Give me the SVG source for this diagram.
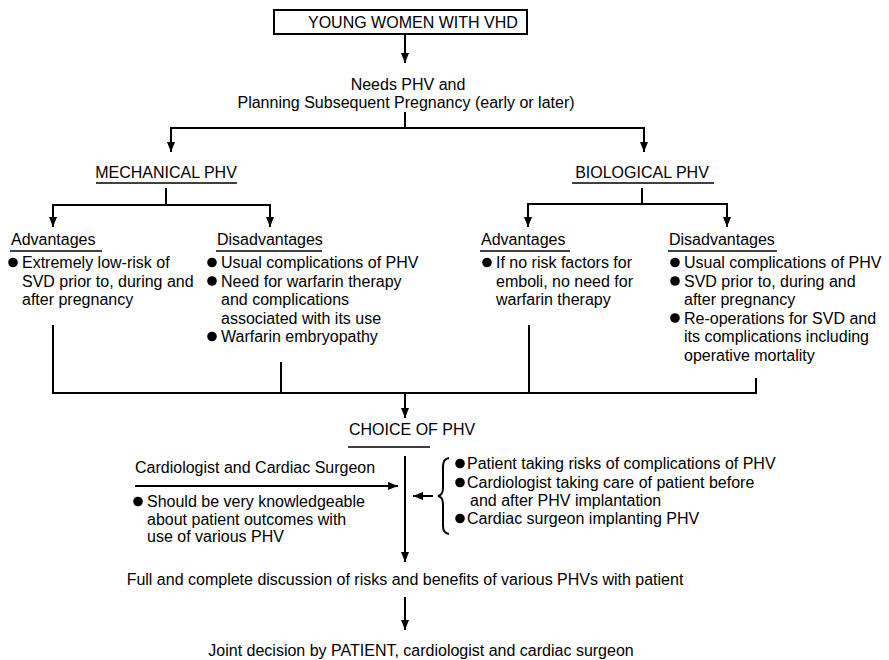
<svg xmlns="http://www.w3.org/2000/svg" width="889" height="660" viewBox="0 0 889 660">
<defs>
<marker id="ah" markerWidth="10" markerHeight="8" refX="10" refY="4" orient="auto" markerUnits="userSpaceOnUse">
<path d="M0,0 L10,4 L0,8 z" fill="#000"/>
</marker>
<style>
text{font-family:"Liberation Sans",Arial,Helvetica,sans-serif;font-size:16px;fill:#000}
.ln{stroke:#000;stroke-width:2;fill:none}
.ar{stroke:#000;stroke-width:2;fill:none;marker-end:url(#ah)}
.ul{stroke:#000;stroke-width:1.6}
.bx{fill:#fff;stroke:#000;stroke-width:2}
.c{text-anchor:middle}
circle{fill:#000}
</style>
</defs>
<rect width="889" height="660" fill="#fff"/>

<g id="connectors">
<line class="ar" x1="405" y1="35" x2="405" y2="63"/>
<line class="ln" x1="405" y1="112" x2="405" y2="128"/>
<line class="ln" x1="170" y1="128" x2="645" y2="128"/>
<line class="ar" x1="171" y1="128" x2="171" y2="152"/>
<line class="ar" x1="644" y1="128" x2="644" y2="152"/>
<line class="ln" x1="166" y1="188" x2="166" y2="205"/>
<line class="ln" x1="52" y1="205" x2="271" y2="205"/>
<line class="ar" x1="53" y1="205" x2="53" y2="227"/>
<line class="ar" x1="270" y1="205" x2="270" y2="227"/>
<line class="ln" x1="642" y1="188" x2="642" y2="204"/>
<line class="ln" x1="527" y1="204" x2="728" y2="204"/>
<line class="ar" x1="528" y1="204" x2="528" y2="227"/>
<line class="ar" x1="727" y1="204" x2="727" y2="227"/>
<line class="ln" x1="53" y1="325" x2="53" y2="393"/>
<line class="ln" x1="281" y1="362" x2="281" y2="393"/>
<line class="ln" x1="529" y1="325" x2="529" y2="393"/>
<line class="ln" x1="756" y1="378" x2="756" y2="393"/>
<line class="ln" x1="52" y1="393" x2="757" y2="393"/>
<line class="ar" x1="405" y1="393" x2="405" y2="418"/>
<line class="ar" x1="405" y1="456" x2="405" y2="562"/>
<line class="ar" x1="135" y1="486" x2="398" y2="486"/>
<line class="ar" x1="433" y1="496" x2="413" y2="496"/>
<path class="ln" stroke-width="1.4" d="M449,458 Q443,459 443,466 L443,488 Q443,495 438,496 Q443,497 443,504 L443,526 Q443,533 449,534"/>
<line class="ar" x1="405" y1="597" x2="405" y2="630"/>
</g>

<g id="n-start">
<rect class="bx" x="274" y="10" width="253" height="24"/>
<text x="308" y="28">YOUNG WOMEN WITH VHD</text>
</g>

<g id="n-needs">
<text class="c" x="408" y="90">Needs PHV and</text>
<text class="c" x="406" y="108">Planning Subsequent Pregnancy (early or later)</text>
</g>

<g id="n-mech">
<text class="c" x="166" y="178">MECHANICAL PHV</text>
<line class="ul" x1="96" y1="183" x2="237" y2="183"/>
</g>

<g id="n-bio">
<text class="c" x="642" y="178">BIOLOGICAL PHV</text>
<line class="ul" x1="572" y1="183" x2="714" y2="183"/>
</g>

<g id="n-mech-adv">
<text x="11" y="245">Advantages</text>
<line class="ul" x1="10" y1="251" x2="102" y2="251"/>
<circle cx="13" cy="262.5" r="4.8"/>
<text x="22" y="268">Extremely low-risk of</text>
<text x="22" y="286.5">SVD prior to, during and</text>
<text x="22" y="305">after pregnancy</text>
</g>

<g id="n-mech-dis">
<text x="217" y="245">Disadvantages</text>
<line class="ul" x1="216" y1="251" x2="322" y2="251"/>
<circle cx="212" cy="262.5" r="4.8"/>
<text x="221" y="268">Usual complications of PHV</text>
<circle cx="212" cy="281" r="4.8"/>
<text x="221" y="286.5">Need for warfarin therapy</text>
<text x="221" y="305">and complications</text>
<text x="221" y="323.5">associated with its use</text>
<circle cx="212" cy="336.5" r="4.8"/>
<text x="221" y="342">Warfarin embryopathy</text>
</g>

<g id="n-bio-adv">
<text x="481" y="245">Advantages</text>
<line class="ul" x1="480" y1="251" x2="570" y2="251"/>
<circle cx="487" cy="262.5" r="4.8"/>
<text x="496" y="268">If no risk factors for</text>
<text x="496" y="286.5">emboli, no need for</text>
<text x="496" y="305">warfarin therapy</text>
</g>

<g id="n-bio-dis">
<text x="669" y="245">Disadvantages</text>
<line class="ul" x1="668" y1="251" x2="777" y2="251"/>
<circle cx="675" cy="262.5" r="4.8"/>
<text x="684" y="268">Usual complications of PHV</text>
<circle cx="675" cy="281" r="4.8"/>
<text x="684" y="286.5">SVD prior to, during and</text>
<text x="684" y="305">after pregnancy</text>
<circle cx="675" cy="318" r="4.8"/>
<text x="684" y="323.5">Re-operations for SVD and</text>
<text x="684" y="342">its complications including</text>
<text x="684" y="360.5">operative mortality</text>
</g>

<g id="n-choice">
<text x="349" y="435">CHOICE OF PHV</text>
<line class="ul" x1="348" y1="447" x2="430" y2="447"/>
</g>

<g id="n-cardio">
<text x="135" y="473">Cardiologist and Cardiac Surgeon</text>
<circle cx="138" cy="501.5" r="4.8"/>
<text x="147" y="507">Should be very knowledgeable</text>
<text x="147" y="524.5">about patient outcomes with</text>
<text x="147" y="542">use of various PHV</text>
</g>

<g id="n-patient">
<circle cx="460" cy="463.5" r="4.8"/>
<text x="467" y="469">Patient taking risks of complications of PHV</text>
<circle cx="460" cy="482.5" r="4.8"/>
<text x="467" y="488">Cardiologist taking care of patient before</text>
<text x="470" y="506">and after PHV implantation</text>
<circle cx="460" cy="518.5" r="4.8"/>
<text x="467" y="524">Cardiac surgeon implanting PHV</text>
</g>

<g id="n-discussion">
<text class="c" x="405" y="585">Full and complete discussion of risks and benefits of various PHVs with patient</text>
</g>

<g id="n-decision">
<text class="c" x="421" y="656">Joint decision by PATIENT, cardiologist and cardiac surgeon</text>
</g>
</svg>
